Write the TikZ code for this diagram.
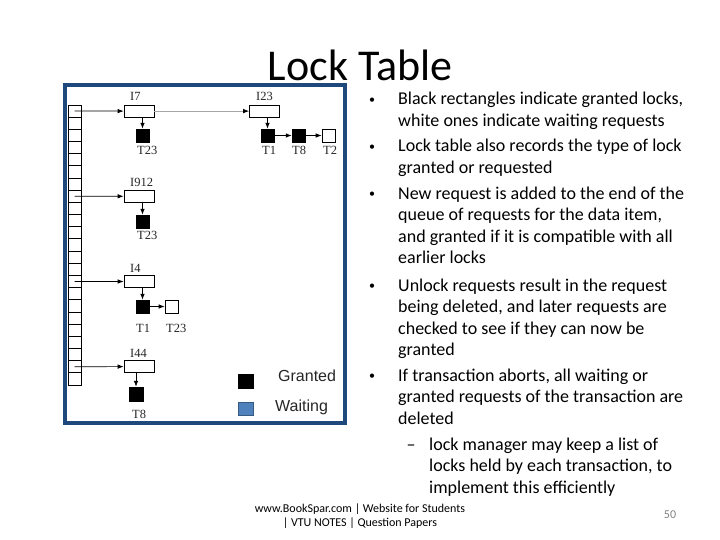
\documentclass[tikz,border=0pt]{standalone}
\usepackage{fontspec}
\setmainfont{Carlito}
\newfontfamily\labfont{Liberation Serif}
\newfontfamily\legfont{Liberation Sans}
\usetikzlibrary{arrows.meta}
\definecolor{frameblue}{HTML}{1F497D}
\definecolor{waitblue}{HTML}{4F81BD}
\begin{document}
\begin{tikzpicture}[x=1pt,y=-1pt,
  cell/.style={draw,line width=0.9pt,minimum width=13pt,minimum height=12.174pt,inner sep=0pt},
  itembox/.style={draw,line width=0.7pt,minimum width=30pt,minimum height=12pt,inner sep=0pt},
  granted/.style={draw,fill=black,minimum size=13pt,inner sep=0pt},
  waiting/.style={draw,fill=white,line width=0.7pt,minimum size=13pt,inner sep=0pt},
  lab/.style={font=\labfont\fontsize{12.5}{14}\selectfont,text=black!85,inner sep=0pt,anchor=base west},
  arr/.style={line width=0.7pt,-{Latex[length=6pt,width=4.5pt]}},
  bul/.style={font=\fontsize{12}{14}\selectfont,inner sep=0pt,anchor=base},
  dashmark/.style={font=\fontsize{18}{21.5}\selectfont,inner sep=0pt,anchor=base},
  para/.style={font=\fontsize{18}{21.5}\selectfont,inner sep=0pt,anchor=base west,align=left},
  legtext/.style={font=\legfont\fontsize{16}{18}\selectfont,text=black!85,inner sep=0pt,anchor=west},
  foot/.style={font=\fontsize{12}{14}\selectfont,inner sep=0pt,anchor=base}
]
\useasboundingbox (0,0) rectangle (720,540);

% title
\node[font=\fontsize{44}{50}\selectfont,anchor=base,inner sep=0pt] (title) at (360,81) {Lock Table};

% frame
\draw[frameblue,line width=4pt] (65,85) rectangle (345,423);

% hash table
\foreach \i in {0,...,22} {
  \node[cell] (c\i) at (74.5,{105+6.087+\i*12.174}) {};
}

% item boxes
\node[itembox] (I7) at (139,111.1) {};
\node[itembox] (I23) at (264.5,111.1) {};
\node[itembox] (I912) at (139,196.3) {};
\node[itembox] (I4) at (139,281.5) {};
\node[itembox] (I44) at (139,366.6) {};

\node[lab] (lI7) at (130,101) {I7};
\node[lab] (lI23) at (256,101) {I23};
\node[lab] (lI912) at (130,187) {I912};
\node[lab] (lI4) at (130,272) {I4};
\node[lab] (lI44) at (130,357) {I44};

% lock requests
\node[granted] (a1) at (142.5,135.5) {};
\node[granted] (b1) at (267.5,135.5) {};
\node[granted] (b2) at (298.5,135.5) {};
\node[waiting] (b3) at (328.5,135.5) {};
\node[granted] (d1) at (142.5,221.5) {};
\node[granted] (e1) at (142.5,306.5) {};
\node[waiting] (e2) at (171.5,306.5) {};
\node[granted,minimum size=14pt] (f1) at (136,394) {};

\node[lab] (la1) at (137,155) {T23};
\node[lab] (lb1) at (262,155) {T1};
\node[lab] (lb2) at (292,155) {T8};
\node[lab] (lb3) at (323,155) {T2};
\node[lab] (ld1) at (137,240) {T23};
\node[lab] (le1) at (136,332) {T1};
\node[lab] (le2) at (166,332) {T23};
\node[lab] (lf1) at (132,418) {T8};

% connectors
\draw[arr] (c0.center) -- (I7.west);
\draw[arr] (c7.center) -- (I912.west);
\draw[arr] (c14.center) -- (I4.west);
\draw[arr] (c21.center) -- (I44.west);
\draw[line width=0.7pt,draw=black!35,-{Latex[length=6pt,width=4.5pt,color=black]}] (I7.east) -- (I23.west);
\draw[arr] (I7.south -| a1.north) -- (a1.north);
\draw[arr] (I23.south -| b1.north) -- (b1.north);
\draw[arr] (b1.east) -- (b2.west);
\draw[arr] (b2.east) -- (b3.west);
\draw[arr] (I912.south -| d1.north) -- (d1.north);
\draw[arr] (I4.south -| e1.north) -- (e1.north);
\draw[arr] (e1.east) -- (e2.west);
\draw[arr] (I44.south -| f1.north) -- (f1.north);

% legend
\node[fill=black,draw=black,minimum width=15pt,minimum height=14pt,inner sep=0pt] (lgG) at (245.5,381) {};
\node[fill=waitblue,draw=waitblue!70!black,minimum width=15pt,minimum height=13pt,inner sep=0pt] (lgW) at (245.5,408.5) {};
\node[legtext] (tG) at (278,376) {Granted};
\node[legtext] (tW) at (275,407) {Waiting};

% bullets (para nodes anchored at the baseline of their last line)
\node[bul] (b1d) at (372,103.5) {•};
\node[para] (p1) at (398,126.5) {Black rectangles indicate granted locks,\\white ones indicate waiting requests};
\node[bul] (b2d) at (372,150.5) {•};
\node[para] (p2) at (398,173.5) {Lock table also records the type of lock\\granted or requested};
\node[bul] (b3d) at (372,197.5) {•};
\node[para] (p3) at (398,263.5) {New request is added to the end of the\\queue of requests for the data item,\\and granted if it is compatible with all\\earlier locks};
\node[bul] (b4d) at (372,289.5) {•};
\node[para] (p4) at (398,355.5) {Unlock requests result in the request\\being deleted, and later requests are\\checked to see if they can now be\\granted};
\node[bul] (b5d) at (372,379.5) {•};
\node[para] (p5) at (398,424) {If transaction aborts, all waiting or\\granted requests of the transaction are\\deleted};
\node[dashmark] (s1d) at (411,450) {–};
\node[para] (s1) at (429,493) {lock manager may keep a list of\\locks held by each transaction, to\\implement this efficiently};

% footer
\node[foot] (f1t) at (360,512) {www.BookSpar.com | Website for Students};
\node[foot] (f2t) at (360,526) {| VTU NOTES | Question Papers};
\node[foot,text=black!50] (pg) at (670,518) {50};
\end{tikzpicture}
\end{document}
